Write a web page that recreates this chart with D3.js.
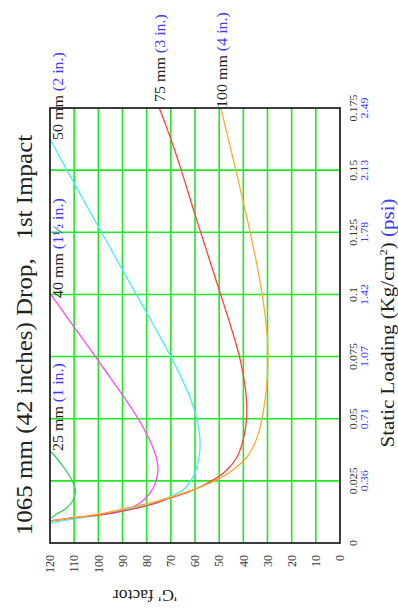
<!DOCTYPE html>
<html>
<head>
<meta charset="utf-8">
<script src="https://cdn.jsdelivr.net/npm/d3@7"></script>
<style>
body{margin:0;background:#fff}
svg{display:block}
text{font-family:"Liberation Serif","Times New Roman",serif}
</style>
</head>
<body>
<svg id="chart" width="398" height="612"></svg>
<script>
// static loading ticks (kg/cm2) and the psi equivalents
const loadTicks = [0, 0.025, 0.05, 0.075, 0.1, 0.125, 0.15, 0.175];
const loadLabels = ['0', '0.025', '0.05', '0.075', '0.1', '0.125', '0.15', '0.175'];
const psiLabels = ['', '0.36', '0.71', '1.07', '1.42', '1.78', '2.13', '2.49'];
const gTicks = [0, 10, 20, 30, 40, 50, 60, 70, 80, 90, 100, 110, 120];

// cushion curves, [static loading, G]
const c25 = [[0.0100,119.5],[0.0113,117.8],[0.0141,113.1],[0.0173,110.4],[0.0213,109.5],[0.0253,111.0],[0.0307,114.5],[0.0367,119.5]];
const c40 = [[0.0089,119.6],[0.0101,110.5],[0.0113,99.3],[0.0129,89.8],[0.0161,82.8],[0.0201,78.6],[0.0241,76.4],[0.0294,75.3],[0.0340,75.9],[0.040,78.1],[0.045,80.6],[0.050,83.5],[0.055,86.8],[0.060,90.3],[0.070,97.6],[0.080,104.9],[0.090,112.3],[0.100,119.7]];
const c50 = [[0.0080,119.6],[0.0097,110.5],[0.0113,99.3],[0.0133,89.8],[0.0157,78.6],[0.0181,71.6],[0.0213,65.0],[0.0266,60.8],[0.0346,58.3],[0.040,57.9],[0.045,58.3],[0.050,59.3],[0.055,60.8],[0.060,62.7],[0.070,67.4],[0.080,72.8],[0.090,78.5],[0.100,84.3],[0.110,90.1],[0.120,95.8],[0.130,101.6],[0.140,107.3],[0.150,113.0],[0.160,118.6],[0.1633,120.4]];
const c75 = [[0.0089,119.6],[0.0101,110.5],[0.0113,99.3],[0.0129,89.8],[0.0153,78.6],[0.0181,70.3],[0.0213,60.8],[0.0253,52.6],[0.0294,46.8],[0.0346,42.6],[0.040,40.5],[0.045,39.3],[0.050,38.7],[0.055,38.6],[0.060,38.9],[0.065,39.6],[0.070,40.5],[0.075,41.6],[0.080,43.0],[0.090,46.1],[0.100,49.4],[0.110,52.7],[0.120,56.0],[0.130,59.3],[0.140,62.5],[0.150,65.7],[0.160,69.1],[0.170,72.8],[0.175,74.8]];
const c100 = [[0.0089,119.6],[0.0101,110.5],[0.0117,99.3],[0.0137,89.8],[0.0161,78.6],[0.0197,66.2],[0.0225,57.9],[0.0261,49.7],[0.0294,44.3],[0.0346,38.5],[0.040,35.3],[0.045,33.5],[0.050,32.3],[0.055,31.4],[0.060,30.7],[0.065,30.2],[0.070,29.9],[0.075,29.8],[0.080,29.9],[0.090,30.8],[0.100,32.2],[0.110,34.0],[0.120,36.1],[0.130,38.3],[0.140,40.7],[0.150,43.1],[0.160,45.6],[0.175,49.3]];

const curves = [
  {data: c25, color: '#3fcf5f', mm: '25 mm ', inch: '(1 in.)', u: 92, v: 13},
  {data: c40, color: '#ff4cf0', mm: '40 mm ', inch: '(1\u00bd in.)', u: 245, v: 13},
  {data: c50, color: '#3ff0ff', mm: '50 mm ', inch: '(2 in.)', u: 403, v: 13},
  {data: c75, color: '#ff4040', mm: '75 mm ', inch: '(3 in.)', u: 441, v: 115},
  {data: c100, color: '#ffaa30', mm: '100 mm ', inch: '(4 in.)', u: 435, v: 177}
];

const S = 0.85;   // the scan is squeezed across the text
const BLUE = '#3b3bff', INK = '#222';
const W = 435, H = 290;

const svg = d3.select('#chart');
// chart is drawn normally and turned a quarter left
const plot = svg.append('g').attr('transform', 'translate(50,543) rotate(-90)');
const x = d3.scaleLinear().domain([0, 0.175]).range([0, W]);
const y = d3.scaleLinear().domain([0, 120]).range([H, 0]);

plot.append('defs').append('clipPath').attr('id', 'clip')
  .append('rect').attr('width', W).attr('height', H);

const grid = plot.append('g').attr('stroke', '#22e822').attr('stroke-width', 1.6);
grid.selectAll('.gx').data(loadTicks.slice(1, -1)).join('line').attr('class', 'gx')
  .attr('x1', d => x(d)).attr('x2', d => x(d)).attr('y1', 0).attr('y2', H);
grid.selectAll('.gy').data(gTicks.slice(1, -1)).join('line').attr('class', 'gy')
  .attr('y1', d => y(d)).attr('y2', d => y(d)).attr('x1', 0).attr('x2', W);

const line = d3.line().x(d => x(d[0])).y(d => y(d[1])).curve(d3.curveCatmullRom.alpha(0.5));
plot.append('g').attr('clip-path', 'url(#clip)').selectAll('path').data(curves).join('path')
  .attr('d', d => line(d.data)).attr('fill', 'none')
  .attr('stroke', d => d.color).attr('stroke-width', 1.3);

plot.append('rect').attr('width', W).attr('height', H)
  .attr('fill', 'none').attr('stroke', '#1a1a1a').attr('stroke-width', 1.7);

function txt(u, v, size, anchor, s){
  return plot.append('text')
    .attr('transform', 'translate(' + u + ',' + v + ') scale(1,' + (s || S) + ')')
    .attr('font-size', size).attr('text-anchor', anchor || 'start')
    .style('white-space', 'pre');
}

// loading tick labels
loadTicks.forEach((d, i) => {
  txt(x(d), 307, 12, 'middle').attr('fill', '#333').text(loadLabels[i]);
  if(psiLabels[i]) txt(x(d), 318, 12, 'middle').attr('fill', BLUE).text(psiLabels[i]);
});

// G tick labels
gTicks.forEach(d => {
  txt(-12, y(d), 12, 'end', 1).attr('fill', '#333').attr('dy', '0.35em').text(d);
});

// curve labels
curves.forEach(c => {
  const t = txt(c.u, c.v, 16);
  t.append('tspan').attr('fill', INK).text(c.mm);
  t.append('tspan').attr('fill', BLUE).text(c.inch);
});

// title
txt(208, -18, 25, 'middle', 0.9).attr('fill', INK).text('1065 mm (42 inches) Drop,   1st Impact');

// loading axis title
const lt = txt(220, 344, 21, 'middle');
lt.append('tspan').attr('fill', INK).text('Static Loading (Kg/cm');
lt.append('tspan').attr('fill', INK).attr('font-size', 12).attr('dy', -8).text('2');
lt.append('tspan').attr('fill', INK).attr('dy', 8).text(') ');
lt.append('tspan').attr('fill', BLUE).text('(psi)');

// G axis title
plot.append('text').attr('transform', 'translate(-47,95) rotate(-90)')
  .attr('font-size', 17.5).attr('text-anchor', 'middle').attr('fill', INK)
  .text("'G' factor");
</script>
</body>
</html>
